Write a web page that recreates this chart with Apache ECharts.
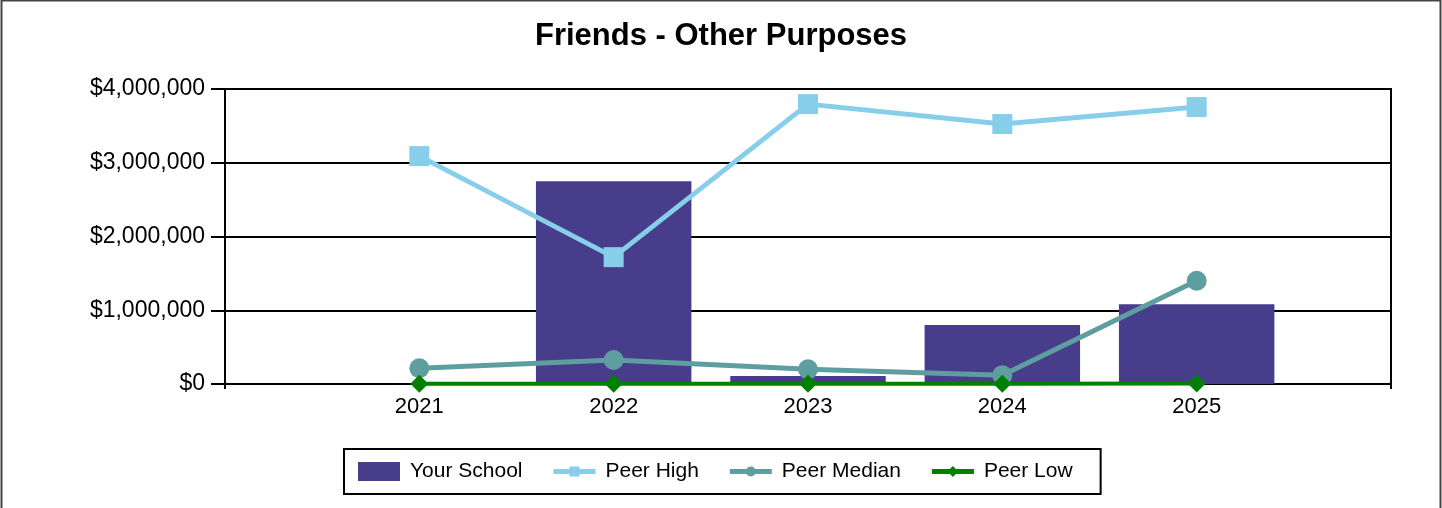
<!DOCTYPE html>
<html>
<head>
<meta charset="utf-8">
<script src="https://cdn.jsdelivr.net/npm/echarts@6/dist/echarts.min.js"></script>
<style>
html,body{margin:0;padding:0;background:#fff;}
#chart{width:1442px;height:508px;}
</style>
</head>
<body>
<div id="chart"></div>
<script>
// Categories padded with blank slots at both ends (the reference leaves a half-gap each side)
const categories = ['', '2021', '2022', '2023', '2024', '2025', ''];
const yourSchool = [null, 0, 2750000, 108000, 800000, 1080000, null];
const peerHigh   = [null, 3090000, 1720000, 3795000, 3525000, 3755000, null];
const peerMedian = [null, 213000, 325000, 199000, 120000, 1400000, null];
const peerLow    = [null, 5000, 5000, 5000, 5000, 8000, null];
const yTicks = { min: 0, max: 4000000, interval: 1000000 };
const titleText = 'Friends - Other Purposes';

const FONT = 'Liberation Sans, Arial, sans-serif';
const C_BAR = '#483D8B', C_HIGH = '#87CEEB', C_MED = '#5F9EA0', C_LOW = '#008000';

const chart = echarts.init(document.getElementById('chart'), null, { renderer: 'canvas' });

const bbox = 'M0,0L0.01,0L0,0.01Z M42,19L41.99,19L42,18.99Z ';
const lineBar = 'M0,7L42,7L42,12L0,12Z ';
const iconHigh = 'path://' + bbox + lineBar + 'M16,4.5L26,4.5L26,14.5L16,14.5Z';
const iconMed  = 'path://' + bbox + lineBar + 'M26,9.5A5,5,0,1,1,16,9.5A5,5,0,1,1,26,9.5Z';
const iconLow  = 'path://' + bbox + lineBar + 'M21,4L26.5,9.5L21,15L15.5,9.5Z';

chart.setOption({
  animation: false,
  backgroundColor: '#fff',
  title: {
    text: titleText,
    left: 'center',
    top: 16,
    textStyle: { fontFamily: FONT, fontSize: 31, fontWeight: 'bold', color: '#000' }
  },
  graphic: [{
    type: 'polyline',
    shape: { points: [[1.5, 508], [1.5, 0.5], [1440.5, 0.5], [1440.5, 508]] },
    style: { stroke: '#444', lineWidth: 2, fill: null },
    z: 100
  }],
  grid: {
    left: 225, right: 51, top: 89, bottom: 124,
    show: true, borderColor: '#000', borderWidth: 2, backgroundColor: 'transparent'
  },
  legend: {
    left: 344,
    top: 449,
    itemWidth: 42,
    itemHeight: 19,
    itemGap: 31,
    padding: [12, 28, 12, 14],
    borderColor: '#000',
    borderWidth: 2,
    textStyle: { fontFamily: FONT, fontSize: 21, color: '#000', padding: [0, 0, 0, 5] },
    data: [
      { name: 'Your School', icon: 'rect' },
      { name: 'Peer High', icon: iconHigh, itemStyle: { color: C_HIGH, borderWidth: 0 } },
      { name: 'Peer Median', icon: iconMed, itemStyle: { color: C_MED, borderWidth: 0 } },
      { name: 'Peer Low', icon: iconLow, itemStyle: { color: C_LOW, borderWidth: 0 } }
    ]
  },
  xAxis: {
    type: 'category',
    data: categories,
    boundaryGap: false,
    axisLine: { show: true, lineStyle: { color: '#000', width: 2 } },
    axisTick: { show: true, length: 5, lineStyle: { color: '#000', width: 2 }, interval: 0 },
    axisLabel: { fontFamily: FONT, fontSize: 22, color: '#000', margin: 12, interval: 0 },
    splitLine: { show: false }
  },
  yAxis: {
    type: 'value',
    min: yTicks.min, max: yTicks.max, interval: yTicks.interval,
    axisLine: { show: true, lineStyle: { color: '#000', width: 2 } },
    axisTick: { show: true, length: 14, lineStyle: { color: '#000', width: 2 } },
    axisLabel: {
      fontFamily: FONT, fontSize: 23, color: '#000', margin: 20,
      formatter: v => '$' + Math.round(v).toLocaleString('en-US')
    },
    splitLine: { show: true, lineStyle: { color: '#000', width: 2 } }
  },
  series: [
    {
      name: 'Your School', type: 'bar', data: yourSchool, barWidth: '80%',
      itemStyle: { color: C_BAR }, z: 2
    },
    {
      name: 'Peer High', type: 'line', data: peerHigh,
      symbol: 'rect', symbolSize: 20, showAllSymbol: true,
      lineStyle: { color: C_HIGH, width: 5 }, itemStyle: { color: C_HIGH, borderWidth: 0 }, z: 3
    },
    {
      name: 'Peer Median', type: 'line', data: peerMedian,
      symbol: 'circle', symbolSize: 20, showAllSymbol: true,
      lineStyle: { color: C_MED, width: 5 }, itemStyle: { color: C_MED, borderWidth: 0 }, z: 4
    },
    {
      name: 'Peer Low', type: 'line', data: peerLow,
      symbol: 'diamond', symbolSize: 18, showAllSymbol: true,
      lineStyle: { color: C_LOW, width: 4 }, itemStyle: { color: C_LOW, borderWidth: 0 }, z: 5
    }
  ]
});
</script>
</body>
</html>
